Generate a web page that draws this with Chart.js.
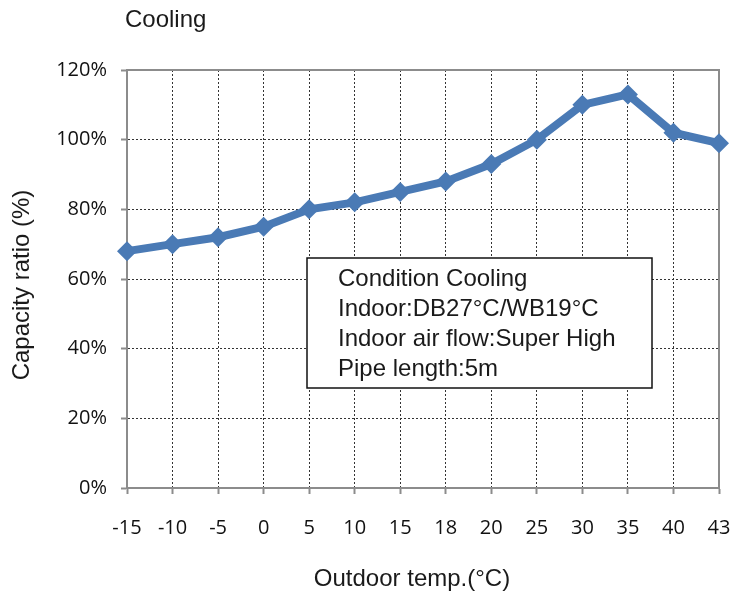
<!DOCTYPE html>
<html><head><meta charset="utf-8">
<script src="https://cdn.jsdelivr.net/npm/chart.js@4"></script>
<style>html,body{margin:0;padding:0;background:#fff}#wrap{width:731px;height:595px}</style>
</head><body><div id="wrap"><canvas id="c" width="731" height="595"></canvas></div>
<script>
const categories = ['-15','-10','-5','0','5','10','15','18','20','25','30','35','40','43'];
const capacityRatio = [68,70,72,75,80,82,85,88,93,100,110,113,102,99];
const yTicks = [0,20,40,60,80,100,120];
const chartTitle = 'Cooling';
const xTitle = 'Outdoor temp.(°C)';
const yTitle = 'Capacity ratio (%)';
const noteLines = ['Condition Cooling','Indoor:DB27°C/WB19°C','Indoor air flow:Super High','Pipe length:5m'];

const GRAY = '#8c8c8c';
const BLUE = '#4a7ab5';
const TXT = "Liberation Sans, Arial, sans-serif";

const textPlugin = {
  id: 'texts',
  beforeDatasetsDraw(chart) {
    const {ctx, chartArea: a} = chart;
    ctx.save();
    ctx.strokeStyle = GRAY; ctx.lineWidth = 2;
    ctx.beginPath();
    ctx.moveTo(a.left, a.top); ctx.lineTo(a.right, a.top); ctx.lineTo(a.right, a.bottom);
    ctx.stroke();
    ctx.fillStyle = '#fff';
    ctx.fillRect(307, 258, 345, 130);
    ctx.strokeStyle = '#111'; ctx.lineWidth = 1.5;
    ctx.strokeRect(307, 258, 345, 130);
    ctx.fillStyle = '#1a1a1a';
    ctx.font = '24px ' + TXT;
    ctx.textAlign = 'left'; ctx.textBaseline = 'alphabetic';
    noteLines.forEach((t, i) => ctx.fillText(t, 338, 286 + i * 30));
    ctx.restore();
  },
  afterDraw(chart) {
    const {ctx} = chart;
    ctx.save();
    ctx.fillStyle = '#1a1a1a';
    ctx.font = '24px ' + TXT;
    ctx.textAlign = 'left'; ctx.textBaseline = 'alphabetic';
    ctx.fillText(chartTitle, 125, 27);
    ctx.textAlign = 'center';
    ctx.fillText(xTitle, 412, 586);
    ctx.translate(29, 285);
    ctx.rotate(-Math.PI / 2);
    ctx.fillText(yTitle, 0, 0);
    ctx.restore();
  }
};

new Chart(document.getElementById('c'), {
  type: 'line',
  data: {
    labels: categories,
    datasets: [{
      data: capacityRatio,
      borderColor: BLUE,
      backgroundColor: BLUE,
      borderWidth: 8,
      pointStyle: 'rectRot',
      pointRadius: 10,
      pointBorderWidth: 0,
      pointBackgroundColor: BLUE,
      tension: 0,
      clip: false
    }]
  },
  options: {
    responsive: false,
    animation: false,
    devicePixelRatio: 1,
    layout: {padding: {top: 70, right: 12, left: 0, bottom: 0}},
    plugins: {legend: {display: false}, tooltip: {enabled: false}, title: {display: false}},
    scales: {
      x: {
        offset: false,
        grid: {color: '#333', lineWidth: 1, tickColor: GRAY, tickWidth: 2, tickLength: 6, drawTicks: true},
        border: {display: true, color: GRAY, width: 2, dash: [2, 2]},
        ticks: {color: '#111', font: {family: "Open Sans", size: 20}, padding: 22, maxRotation: 0, autoSkip: false},
        afterFit(s) { s.height = 107; s.paddingLeft = 0; s.paddingRight = 0; }
      },
      y: {
        min: 0, max: 120,
        afterBuildTicks(s) { s.ticks = yTicks.map(v => ({value: v})); },
        grid: {color: '#333', lineWidth: 1, tickColor: GRAY, tickWidth: 2, tickLength: 6},
        border: {display: true, color: GRAY, width: 2, dash: [2, 2]},
        ticks: {color: '#111', font: {family: "Open Sans", size: 20}, padding: 14, callback: v => v + '%'},
        afterFit(s) { s.width = 127; s.paddingTop = 0; s.paddingBottom = 0; }
      }
    }
  },
  plugins: [textPlugin]
});
</script></body></html>
